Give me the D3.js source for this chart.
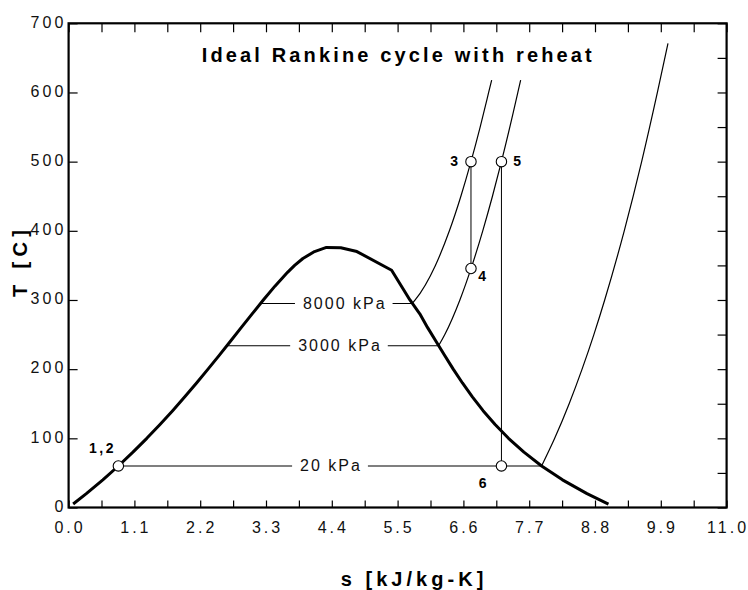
<!DOCTYPE html>
<html>
<head>
<meta charset="utf-8">
<script src="https://cdn.jsdelivr.net/npm/d3@7/dist/d3.min.js"></script>
<style>
  html, body { margin: 0; padding: 0; background: #fff; }
  svg { display: block; font-family: "Liberation Sans", Arial, sans-serif; }
</style>
</head>
<body>
<svg id="chart" width="748" height="590"></svg>
<script>
// ---------------- data ----------------
const xTickValues = [0, 1.1, 2.2, 3.3, 4.4, 5.5, 6.6, 7.7, 8.8, 9.9, 11.0];
const xTickLabels = ["0.0", "1.1", "2.2", "3.3", "4.4", "5.5", "6.6", "7.7", "8.8", "9.9", "11.0"];
const yTickValues = [0, 100, 200, 300, 400, 500, 600, 700];
const yTickLabels = ["0", "100", "200", "300", "400", "500", "600", "700"];

// saturation dome (s [kJ/kg-K], T [C])
const domeS = [0.0763, 0.2966, 0.5725, 0.8313, 1.0756, 1.3072, 1.5279, 1.7392, 1.9426, 2.1392,
  2.3305, 2.5177, 2.7020, 2.8849, 3.0685, 3.2552, 3.4494, 3.6601, 3.7784, 3.9167, 4.1112,
  4.31, 4.55, 4.82, 5.40,
  5.706, 5.871, 6.002, 6.144, 6.285, 6.430, 6.584, 6.750, 6.929, 7.130, 7.354, 7.612,
  7.908, 8.256, 8.666, 9.025];
const domeT = [5, 20, 40, 60, 80, 100, 120, 140, 160, 180,
  200, 220, 240, 260, 280, 300, 320, 340, 350, 360, 370,
  376, 375.5, 370, 343,
  300, 280, 260, 240, 220, 200, 180, 160, 140, 120, 100, 80,
  60, 40, 20, 5];

// isobars: saturated liquid, saturated vapour, then superheated points
const p8000S = [3.2081, 5.7450, 5.7937, 6.1321, 6.3658, 6.5579, 6.7266, 6.8800, 7.0221, 7.0725];
const p8000T = [295.0, 295.0, 300, 350, 400, 450, 500, 550, 600, 618];
const p3000S = [2.6454, 6.1856, 6.2893, 6.5412, 6.7449, 6.9235, 7.0856, 7.2359, 7.5103, 7.557];
const p3000T = [233.85, 233.85, 250, 300, 350, 400, 450, 500, 600, 618];
const p20S = [0.8320, 7.9073, 8.126, 8.368, 8.584, 8.781, 8.962, 9.289, 9.580, 9.843, 10.02];
const p20T = [60.06, 60.06, 100, 150, 200, 250, 300, 400, 500, 600, 671];
const isobarNames = ["8000 kPa", "3000 kPa", "20 kPa"];
const isobarLabelS = [4.60, 4.52, 4.37];

// cycle state points
const stateNames = ["1,2", "3", "4", "5", "6"];
const stateS = [0.8320, 6.7266, 6.7266, 7.2359, 7.2359];
const stateT = [60.06, 500, 345.5, 500, 60.06];

// ---------------- chart ----------------
const svg = d3.select("#chart");
const L = 68.6, R = 726.6, T0 = 23.3, B = 507.5;
const x = d3.scaleLinear().domain([0, 11]).range([L, R]);
const y = d3.scaleLinear().domain([0, 700]).range([B, T0]);

const pts = (S, TT) => S.map((s, i) => [s, TT[i]]);
const line = d3.line().x(d => x(d[0])).y(d => y(d[1]));
const smooth = d3.line().x(d => x(d[0])).y(d => y(d[1])).curve(d3.curveMonotoneX);

// ticks (inward)
const minorX = d3.range(0, 21).map(i => i * 0.55);
svg.append("g").attr("transform", `translate(0,${B})`)
  .call(d3.axisBottom(x).tickValues(minorX).tickSize(-7).tickFormat(""))
  .call(g => g.select(".domain").remove())
  .selectAll("line").attr("stroke", "#000").attr("stroke-width", 1.2);
svg.append("g").attr("transform", `translate(0,${T0})`)
  .call(d3.axisTop(x).tickValues(minorX).tickSize(-9).tickFormat(""))
  .call(g => g.select(".domain").remove())
  .selectAll("line").attr("stroke", "#000").attr("stroke-width", 1.2);
svg.append("g").attr("transform", `translate(${L},0)`)
  .call(d3.axisLeft(y).tickValues(yTickValues).tickSize(-9).tickFormat(""))
  .call(g => g.select(".domain").remove())
  .selectAll("line").attr("stroke", "#000").attr("stroke-width", 1.2);
svg.append("g").attr("transform", `translate(${R},0)`)
  .call(d3.axisRight(y).tickValues(d3.range(0, 701, 50)).tickSize(-9).tickFormat(""))
  .call(g => g.select(".domain").remove())
  .selectAll("line").attr("stroke", "#000").attr("stroke-width", 1.2);

// frame
svg.append("rect").attr("x", L).attr("y", T0).attr("width", R - L).attr("height", B - T0)
  .attr("fill", "none").attr("stroke", "#000").attr("stroke-width", 2.2);

// tick labels
svg.append("g").selectAll("text").data(xTickValues).join("text")
  .attr("x", d => x(d) + 1.5).attr("y", 533.3)
  .attr("text-anchor", "middle").attr("font-size", 16).style("letter-spacing", "3px")
  .attr("fill", "#111")
  .text((d, i) => xTickLabels[i]);
svg.append("g").selectAll("text").data(yTickValues).join("text")
  .attr("x", 66.3).attr("y", d => y(d) + 4.2)
  .attr("text-anchor", "end").attr("font-size", 16).style("letter-spacing", "3px")
  .attr("fill", "#111")
  .text((d, i) => yTickLabels[i]);

// axis titles
svg.append("text").attr("x", 340.7).attr("y", 586)
  .attr("font-size", 20).attr("font-weight", "bold")
  .attr("textLength", 142.6).attr("lengthAdjust", "spacing")
  .text("s [kJ/kg-K]");
svg.append("text").attr("transform", "translate(26.7,297) rotate(-90)")
  .attr("font-size", 20).attr("font-weight", "bold")
  .attr("textLength", 67).attr("lengthAdjust", "spacing")
  .text("T [C]");

// chart title
svg.append("text").attr("x", 201.7).attr("y", 62)
  .attr("font-size", 20).attr("font-weight", "bold")
  .attr("textLength", 390).attr("lengthAdjust", "spacing")
  .text("Ideal Rankine cycle with reheat");

// isobars: horizontal two-phase part + smooth superheated part
const isobars = [pts(p8000S, p8000T), pts(p3000S, p3000T), pts(p20S, p20T)];
const plotG = svg.append("g");
isobars.forEach(d => {
  plotG.append("path").datum(d.slice(0, 2)).attr("d", line)
    .attr("fill", "none").attr("stroke", "#000").attr("stroke-width", 1.1);
  plotG.append("path").datum(d.slice(1)).attr("d", smooth)
    .attr("fill", "none").attr("stroke", "#000").attr("stroke-width", 1.2);
});

// process lines 3-4 and 5-6
plotG.append("path").datum([[stateS[1], stateT[1]], [stateS[2], stateT[2]]]).attr("d", line)
  .attr("fill", "none").attr("stroke", "#000").attr("stroke-width", 1);
plotG.append("path").datum([[stateS[3], stateT[3]], [stateS[4], stateT[4]]]).attr("d", line)
  .attr("fill", "none").attr("stroke", "#000").attr("stroke-width", 1);

// isobar labels with white gap
const isoT = [p8000T[0], p3000T[0], p20T[0]];
isobarNames.forEach((name, i) => {
  const g = plotG.append("g");
  const t = g.append("text")
    .attr("x", x(isobarLabelS[i]) + 1).attr("y", y(isoT[i]) + 5.5)
    .attr("text-anchor", "middle").attr("font-size", 16).style("letter-spacing", "2px")
    .attr("fill", "#111").text(name);
  const bb = t.node().getBBox();
  g.insert("rect", "text").attr("x", bb.x - 8).attr("y", y(isoT[i]) - 3)
    .attr("width", bb.width + 14).attr("height", 6).attr("fill", "#fff");
});

// saturation dome
plotG.append("path").datum(pts(domeS, domeT)).attr("d", line)
  .attr("fill", "none").attr("stroke", "#000").attr("stroke-width", 3)
  .attr("stroke-linejoin", "round");

// state points
plotG.selectAll("circle").data(stateS).join("circle")
  .attr("cx", d => x(d)).attr("cy", (d, i) => y(stateT[i])).attr("r", 5.2)
  .attr("fill", "#fff").attr("stroke", "#000").attr("stroke-width", 1.1);

const labelDX = [-2.4, -13, 7.4, 11.7, -22.6];
const labelDY = [-13, 4.5, 12.4, 4.5, 21.6];
const labelAnchor = ["end", "end", "start", "start", "start"];
plotG.selectAll("text.state").data(stateNames).join("text").attr("class", "state")
  .attr("x", (d, i) => x(stateS[i]) + labelDX[i])
  .attr("y", (d, i) => y(stateT[i]) + labelDY[i])
  .attr("text-anchor", (d, i) => labelAnchor[i])
  .attr("font-size", 14).attr("font-weight", "bold")
  .style("letter-spacing", (d, i) => i === 0 ? "2.5px" : "0px")
  .text(d => d);
</script>
</body>
</html>
